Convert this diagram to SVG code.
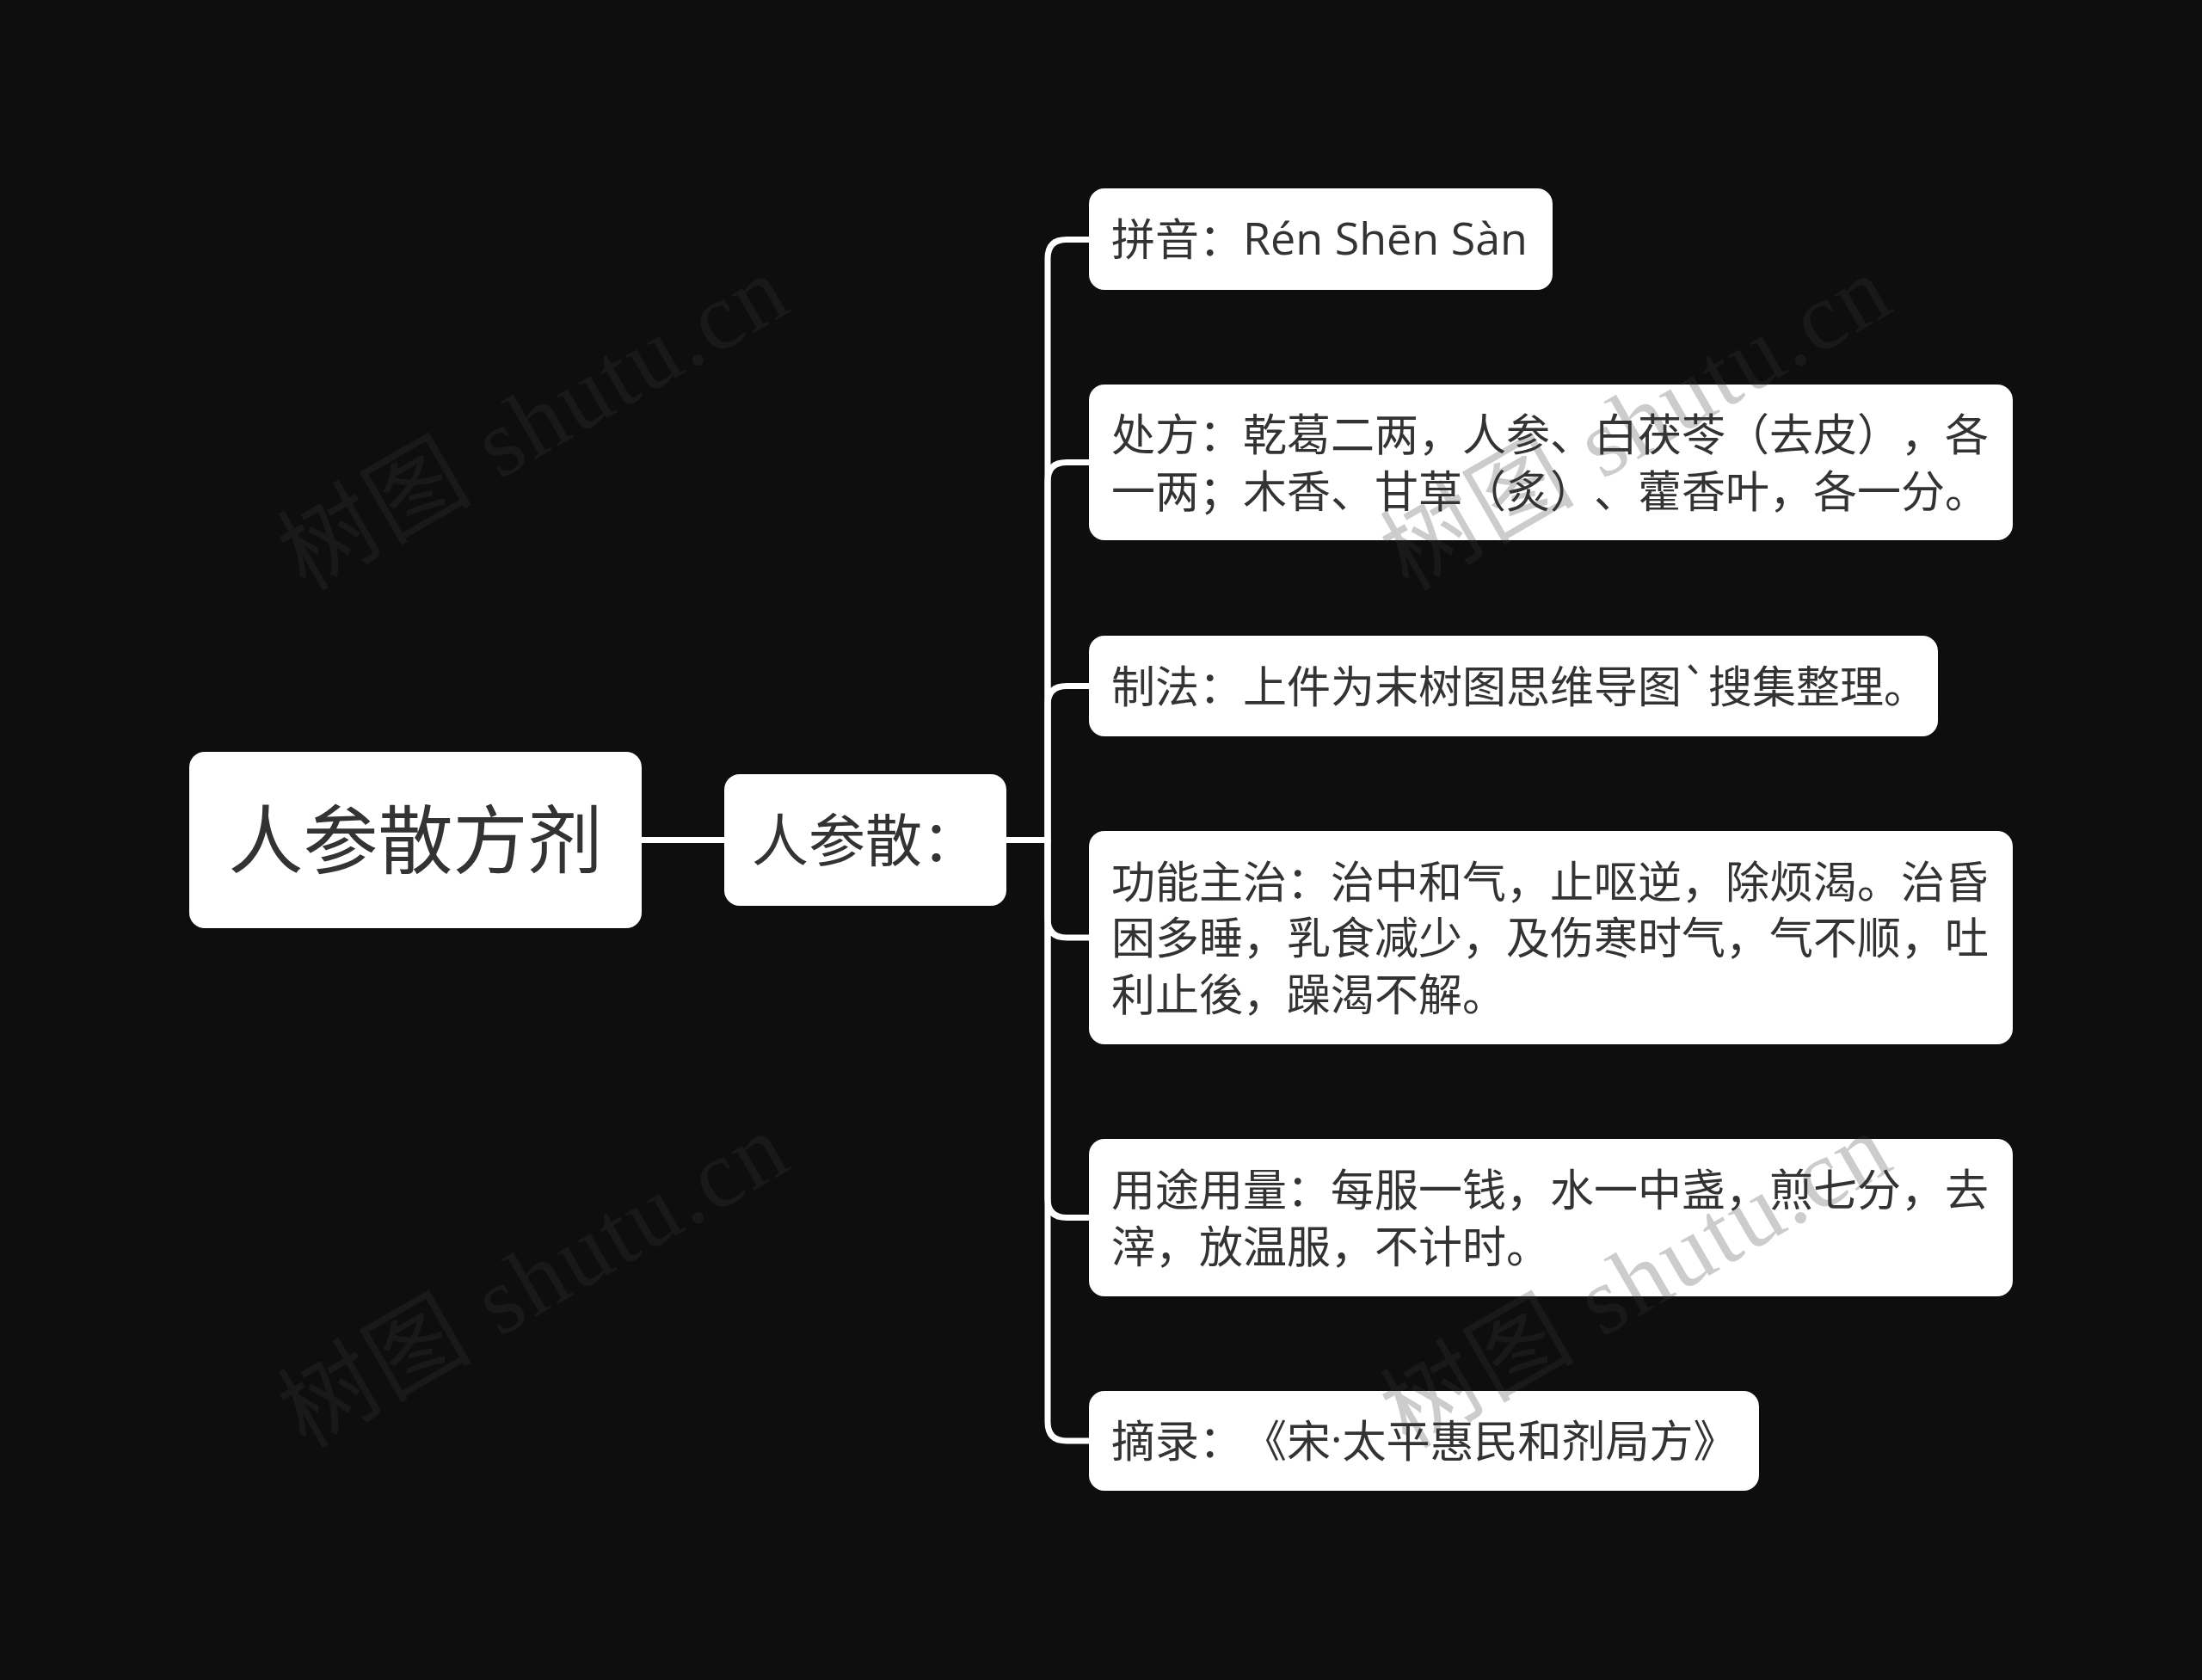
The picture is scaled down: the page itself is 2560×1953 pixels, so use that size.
<svg xmlns="http://www.w3.org/2000/svg" width="2560" height="1953" viewBox="0 0 2560 1953">
<style>
.bg{fill:#0e0e0e}
.box{fill:#ffffff}
.t{font-family:"Noto Sans CJK SC","Microsoft YaHei",sans-serif;fill:#333333;dominant-baseline:central;text-spacing-trim:space-all}
.c{font-size:51px}
.lat{font-family:"Open Sans","Noto Sans CJK SC",sans-serif}
.conn{fill:none;stroke:#ffffff;stroke-width:7;stroke-linecap:round;stroke-linejoin:round}
.wm{font-family:"Liberation Serif","Noto Sans CJK SC",serif;font-size:112px;fill:#3a3a3a;opacity:0.25}
</style>
<rect class="bg" x="0" y="0" width="2560" height="1953"/>
<g id="connectors">
<path class="conn" d="M746,976.5 H842"/>
<path class="conn" d="M1170,976.5 H1218 V300.5 Q1218,278.5 1240,278.5 H1266"/>
<path class="conn" d="M1170,976.5 H1218 V559.5 Q1218,537.5 1240,537.5 H1266"/>
<path class="conn" d="M1170,976.5 H1218 V819.5 Q1218,797.5 1240,797.5 H1266"/>
<path class="conn" d="M1170,976.5 H1218 V1068 Q1218,1090 1240,1090 H1266"/>
<path class="conn" d="M1170,976.5 H1218 V1393.5 Q1218,1415.5 1240,1415.5 H1266"/>
<path class="conn" d="M1170,976.5 H1218 V1653 Q1218,1675 1240,1675 H1266"/>
</g>
<g id="root">
<rect class="box" x="220" y="874" width="526" height="205" rx="18"/>
<text class="t" x="483" y="971" font-size="87" text-anchor="middle">人参散方剂</text>
</g>
<g id="main">
<rect class="box" x="842" y="900" width="328" height="153" rx="18"/>
<text class="t" x="874" y="972" font-size="66">人参散：</text>
</g>
<g id="pinyin">
<rect class="box" x="1266" y="219" width="539" height="118" rx="18"/>
<text class="t c" x="1292" y="275">拼音：<tspan class="lat" font-size="52">Rén Shēn Sàn</tspan></text>
</g>
<g id="chufang">
<rect class="box" x="1266" y="447" width="1074" height="181" rx="18"/>
<text class="t c" x="1292" y="502">处方：乾葛二两，人参、白茯苓（去皮），各</text>
<text class="t c" x="1292" y="567.5">一两；木香、甘草（炙）、藿香叶，各一分。</text>
</g>
<g id="zhifa">
<rect class="box" x="1266" y="739" width="987" height="117" rx="18"/>
<text class="t c" x="1292" y="794.5">制法：上件为末树图思维导图`搜集整理。</text>
</g>
<g id="gongneng">
<rect class="box" x="1266" y="966" width="1074" height="248" rx="18"/>
<text class="t c" x="1292" y="1021.5">功能主治：治中和气，止呕逆，除烦渴。治昏</text>
<text class="t c" x="1292" y="1087">困多睡，乳食减少，及伤寒时气，气不顺，吐</text>
<text class="t c" x="1292" y="1152.5">利止後，躁渴不解。</text>
</g>
<g id="yongtu">
<rect class="box" x="1266" y="1324" width="1074" height="183" rx="18"/>
<text class="t c" x="1292" y="1380">用途用量：每服一钱，水一中盏，煎七分，去</text>
<text class="t c" x="1292" y="1445.5">滓，放温服，不计时。</text>
</g>
<g id="zhailu">
<rect class="box" x="1266" y="1617" width="779" height="116" rx="18"/>
<text class="t c" x="1292" y="1672">摘录：《宋<tspan class="lat">·</tspan>太平惠民和剂局方》</text>
</g>
<g id="watermarks">
<text class="wm" transform="translate(355,688) rotate(-30)" textLength="655" lengthAdjust="spacing">树图 shutu.cn</text>
<text class="wm" transform="translate(355,1685) rotate(-30)" textLength="655" lengthAdjust="spacing">树图 shutu.cn</text>
<text class="wm" transform="translate(1637,688) rotate(-30)" textLength="655" lengthAdjust="spacing">树图 shutu.cn</text>
<text class="wm" transform="translate(1637,1685) rotate(-30)" textLength="655" lengthAdjust="spacing">树图 shutu.cn</text>
</g>
</svg>
